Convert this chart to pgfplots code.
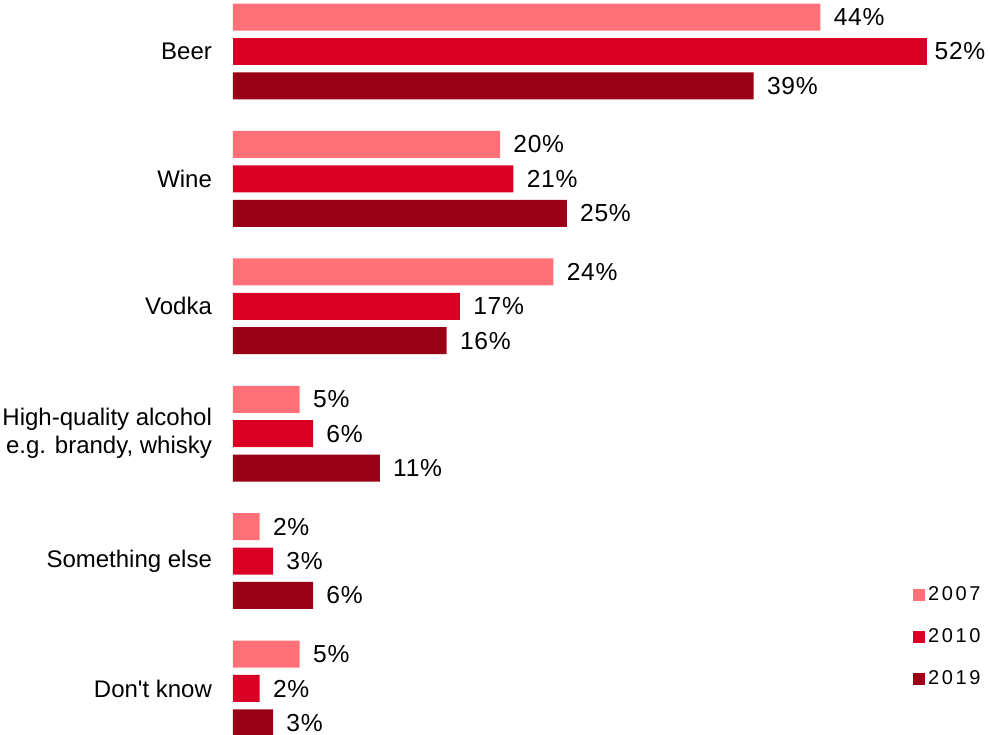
\documentclass[border=0pt]{standalone}
\usepackage{fontspec}
\setmainfont{Liberation Sans}
\newfontfamily\plainfont{Liberation Sans}
\usepackage{pgfplots}
\pgfplotsset{compat=1.18}
\definecolor{c07}{HTML}{FF7078}
\definecolor{c10}{HTML}{DA0025}
\definecolor{c19}{HTML}{9A0016}
\begin{document}
\begin{tikzpicture}
\begin{axis}[
 scale only axis, width=495pt, height=367.5pt,
 xbar, bar width=13.5pt, bar shift=0pt,
 xmin=-17.45, xmax=56.7, ymin=-0.404, ymax=5.365, y dir=reverse,
 axis line style={draw=none}, major tick length=0pt,
 xtick=\empty, ytick={0,1,2,3,4,5},
 yticklabels={Beer, Wine, Vodka, {High-quality alcohol\\e.g. brandy, whisky}, Something else, {\plainfont Don't know}},
 yticklabel style={align=right, anchor=east, xshift=109.5pt, font=\fontsize{12}{14}\selectfont},
 nodes near coords={\pgfmathprintnumber[assume math mode=true]{\pgfplotspointmeta}\%},
 every node near coord/.append style={anchor=west, inner sep=0pt, xshift=6.5pt, font=\fontsize{12.3}{14}\selectfont\addfontfeature{LetterSpace=3}, black},
 clip=true,
 legend style={draw=none, at={(0.922,0.208)}, anchor=north west, font=\fontsize{10}{12}\selectfont\addfontfeature{LetterSpace=13}, row sep=8.5pt, inner sep=0pt, nodes={inner xsep=1.5pt}},
 legend cell align=left,
 legend image code/.code={\fill[#1] (0pt,-3pt) rectangle (6pt,3pt);},
]
\addplot[fill=c07, draw=none] coordinates {(44,-0.27) (20,0.73) (24,1.73) (5,2.73) (2,3.73) (5,4.73)};
\addplot[fill=c10, draw=none] coordinates {(21,1) (17,2) (6,3) (3,4) (2,5)};
\addplot[fill=c19, draw=none] coordinates {(39,0.27) (25,1.27) (16,2.27) (11,3.27) (6,4.27) (3,5.27)};
\addplot[fill=c10, draw=none, forget plot, every node near coord/.append style={xshift=-3pt}] coordinates {(52,0)};
\legend{2007, 2010, 2019}
\end{axis}
\pgfresetboundingbox
\path[use as bounding box] (current axis.south west) rectangle (current axis.north east);
\end{tikzpicture}
\end{document}
